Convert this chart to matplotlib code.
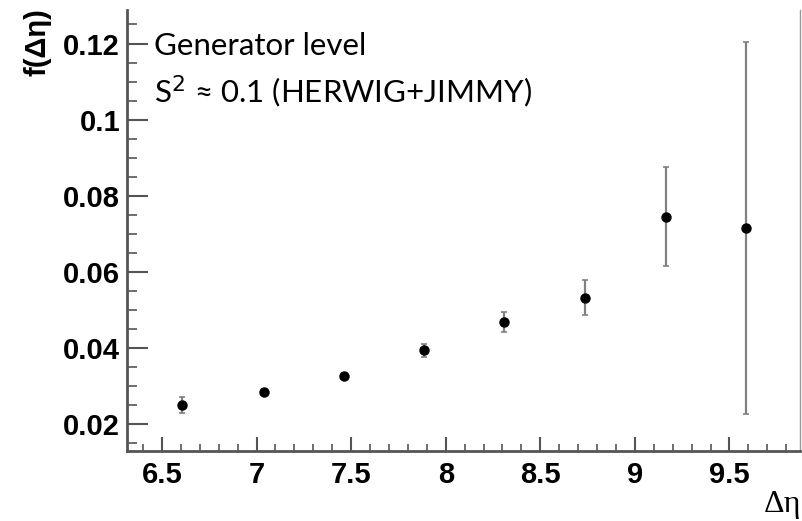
import matplotlib.pyplot as plt
from matplotlib.ticker import MultipleLocator

# Data
deta = [6.605, 7.04, 7.46, 7.885, 8.31, 8.735, 9.165, 9.585]
f_deta = [0.0251, 0.0285, 0.0328, 0.0395, 0.0469, 0.0533, 0.0745, 0.0716]
err_up = [0.0020, 0.0007, 0.0008, 0.0016, 0.0025, 0.0046, 0.0130, 0.0489]
err_dn = [0.0020, 0.0007, 0.0008, 0.0017, 0.0026, 0.0047, 0.0129, 0.0489]

x_ticks = [6.5, 7, 7.5, 8, 8.5, 9, 9.5]
x_tick_labels = ["6.5", "7", "7.5", "8", "8.5", "9", "9.5"]
y_ticks = [0.02, 0.04, 0.06, 0.08, 0.1, 0.12]
y_tick_labels = ["0.02", "0.04", "0.06", "0.08", "0.1", "0.12"]

fig = plt.figure(figsize=(8.02, 5.21), dpi=100)
ax = fig.add_axes([127 / 802, 1 - 451 / 521, 673 / 802, 441 / 521])

# Points with asymmetric error bars
ax.errorbar(deta, f_deta, yerr=[err_dn, err_up], fmt='o', color='black',
            markersize=6.5, ecolor='#808080', elinewidth=1.6,
            capsize=2, capthick=1.2)

ax.set_xlim(6.315, 9.873)
ax.set_ylim(0.013, 0.1288)

# Axis ticks, ROOT style (inside)
ax.set_xticks(x_ticks)
ax.set_xticklabels(x_tick_labels)
ax.set_yticks(y_ticks)
ax.set_yticklabels(y_tick_labels)
ax.xaxis.set_minor_locator(MultipleLocator(0.1))
ax.yaxis.set_minor_locator(MultipleLocator(0.005))
ax.tick_params(axis='x', which='major', direction='in', length=10, width=1.5,
               color='#555555', pad=7)
ax.tick_params(axis='x', which='minor', direction='in', length=5, width=1.2,
               color='#555555')
ax.tick_params(axis='y', which='major', direction='in', length=15, width=1.5,
               color='#555555', pad=5)
ax.tick_params(axis='y', which='minor', direction='in', length=7, width=1.2,
               color='#555555')
ax.tick_params(axis='both', which='both', top=False, right=False)
for lab in ax.get_xticklabels() + ax.get_yticklabels():
    lab.set_fontfamily('Liberation Sans')
    lab.set_fontweight('bold')
    lab.set_fontsize(21)

ax.spines['top'].set_visible(False)
ax.spines['left'].set_color('#555555')
ax.spines['left'].set_linewidth(2)
ax.spines['bottom'].set_color('#555555')
ax.spines['bottom'].set_linewidth(2)
ax.spines['right'].set_color('#999999')
ax.spines['right'].set_linewidth(1)

# Axis titles
fig.text(38 / 802, 1 - 76 / 521, "f(\u0394\u03b7)", rotation=90, ha='center',
         va='bottom', fontsize=21, fontweight='bold', family='Liberation Sans')
fig.text(801 / 802, 2 / 521, "\u0394\u03b7", ha='right', va='bottom',
         fontsize=23, family='Liberation Serif')

# Annotation
ax.text(154 / 802, 1 - 55 / 521, "Generator level", transform=fig.transFigure,
        ha='left', va='baseline', fontsize=22.5, family='Lato')
ax.text(154 / 802, 1 - 103 / 521, "S$^2$ \u2248 0.1 (HERWIG+JIMMY)",
        transform=fig.transFigure, ha='left', va='baseline', fontsize=22.5,
        family='Lato')

plt.savefig("out.png", dpi=100)
